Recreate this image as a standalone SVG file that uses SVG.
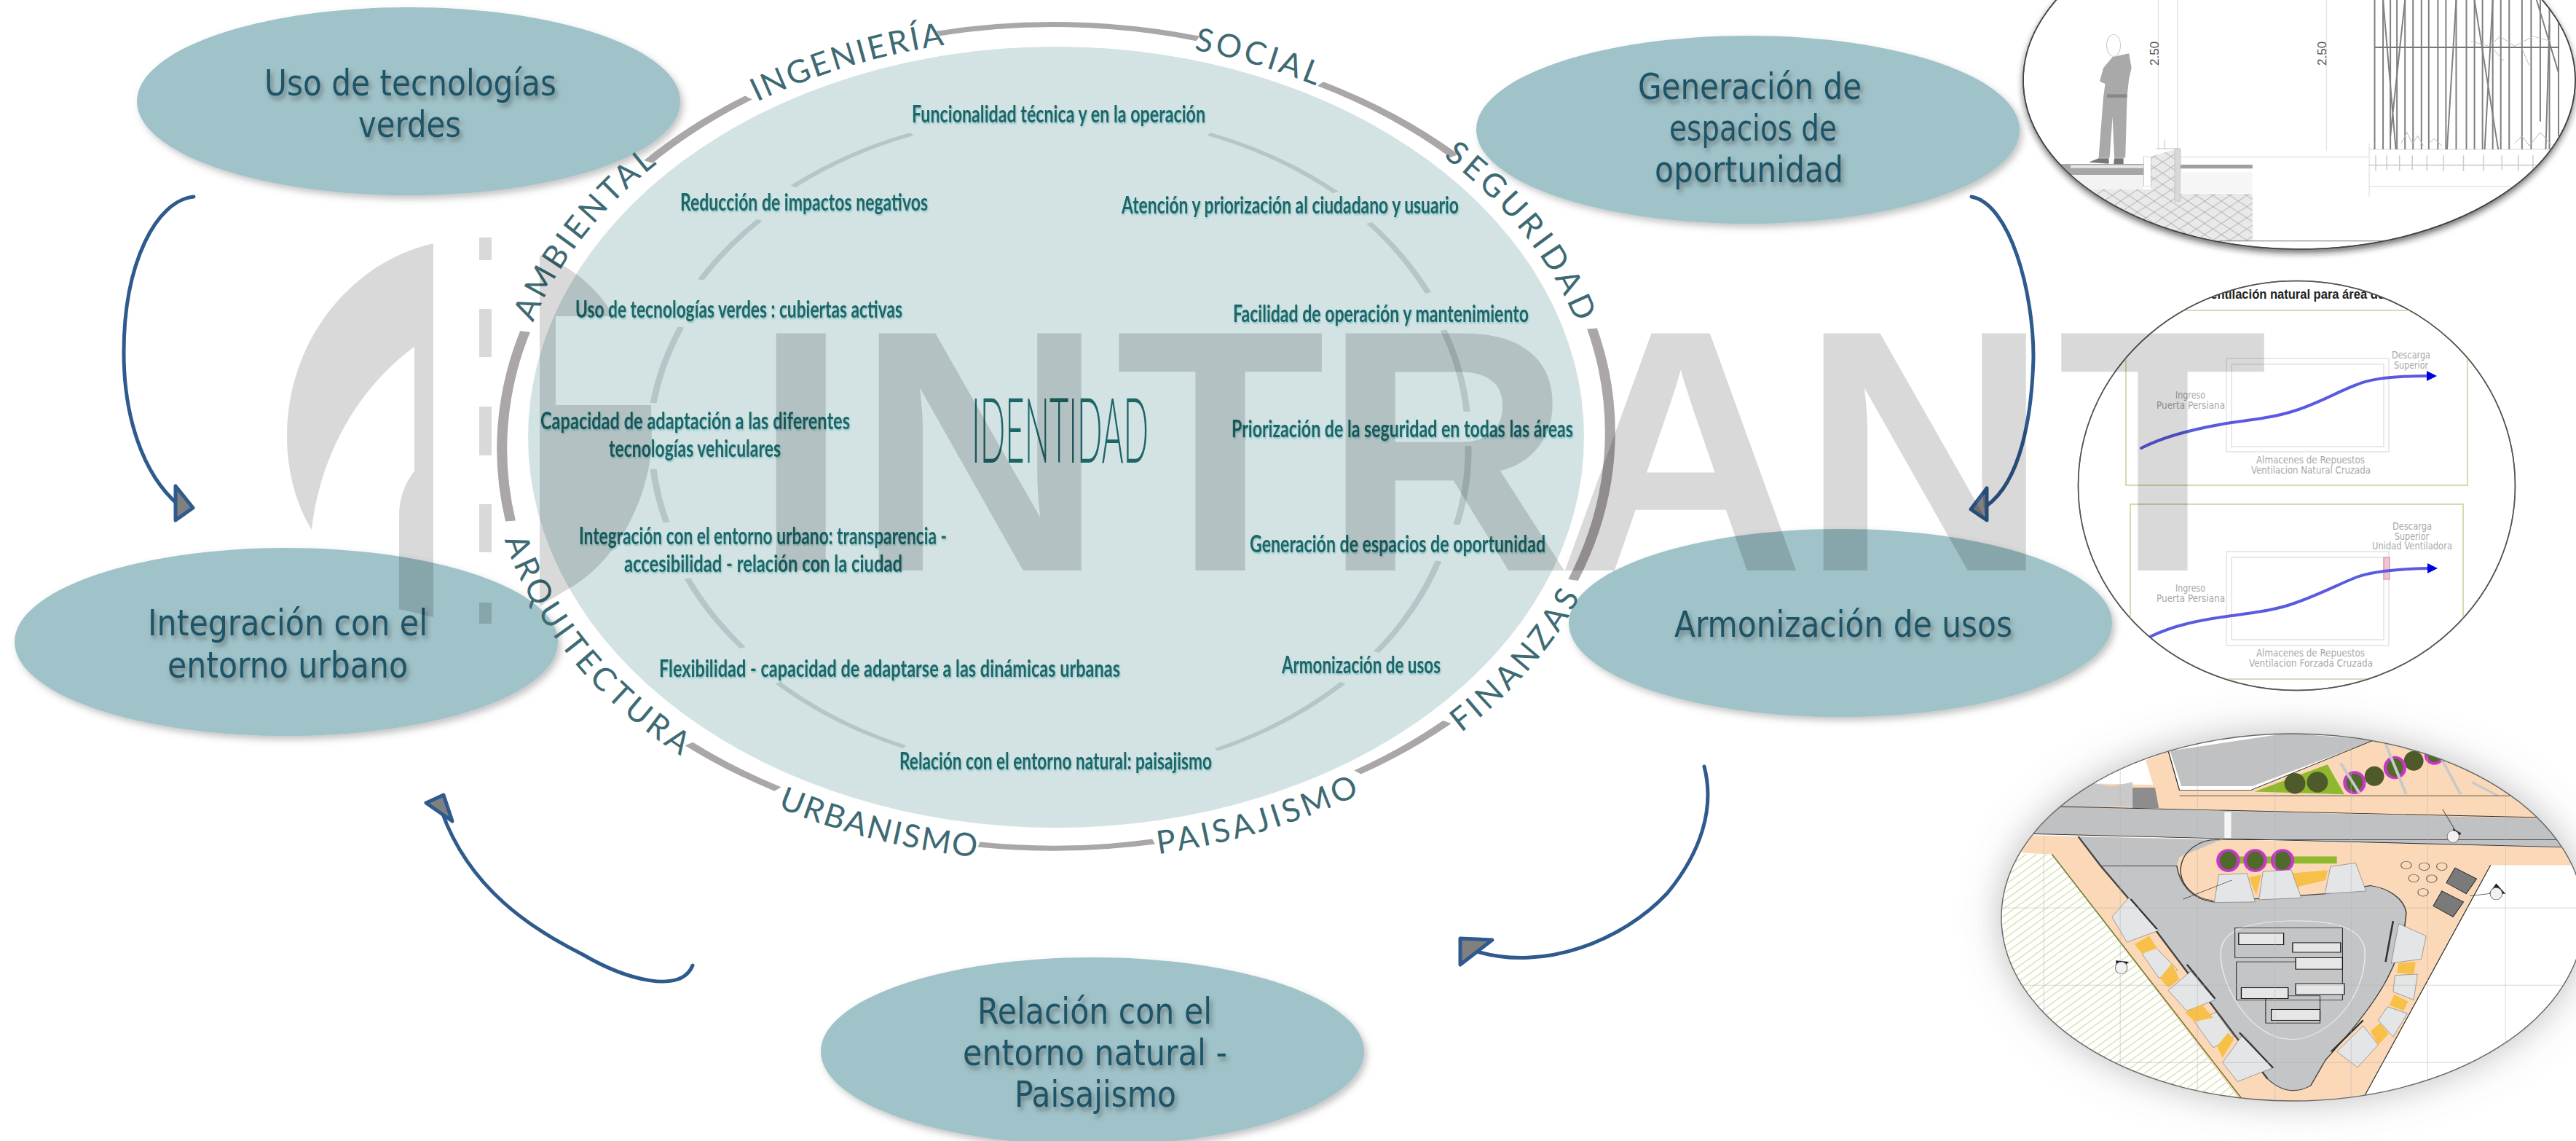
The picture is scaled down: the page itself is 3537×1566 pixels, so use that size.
<svg xmlns="http://www.w3.org/2000/svg" xmlns:xlink="http://www.w3.org/1999/xlink" width="3537" height="1566" viewBox="0 0 3537 1566">
<style>
.node{fill:#9fc3c9;filter:url(#soft)}
.nt{font-family:"DejaVu Sans",Verdana,sans-serif;font-size:50px;fill:#1f5568;text-anchor:start}
.it{font-family:"Lato","Liberation Sans",sans-serif;font-weight:700;font-size:32px;fill:#1d6668}
.rl{font-family:"Lato","Liberation Sans",sans-serif;font-size:44px;fill:#3d6a73;text-anchor:middle}
.ring{fill:none;stroke:#aba6a8;stroke-width:14}
.inner{fill:none;stroke:#b4c6c8;stroke-width:9}
.conn{fill:none;stroke:#2f5a8d;stroke-width:5;stroke-linecap:round}
.head{fill:#808080;stroke:#2f5a8d;stroke-width:5;stroke-linejoin:round}
.lens{fill:#fff;stroke:#555;stroke-width:1.6}
.cad{font-family:"DejaVu Sans",sans-serif;font-size:14px;fill:#a8a8a8;text-anchor:start}
.room{fill:none;stroke:#e2e2e2;stroke-width:1.5}
.frame{fill:none;stroke:#d6dab2;stroke-width:2}
.flow{fill:none;stroke:#5a5ae0;stroke-width:4;stroke-linecap:round}
.bar{stroke:#808080;stroke-width:4;fill:none}
.bay{fill:#e4e5e6;stroke:#444;stroke-width:1}
.or{fill:#f8c048}
.slot{fill:none;stroke:#222;stroke-width:2}
.bus{fill:#e6e6e6;stroke:#111;stroke-width:2.5}
.grid{stroke:#b5b5b5;stroke-width:1.2;fill:none}
.edge{stroke:#2b2b2b;stroke-width:2.5;fill:none}
</style>
<defs>
<filter id="soft" x="-10%" y="-15%" width="120%" height="130%"><feDropShadow dx="4" dy="5" stdDeviation="5" flood-color="#555" flood-opacity=".35"/></filter>
<filter id="ts" x="-10%" y="-20%" width="120%" height="150%"><feDropShadow dx="3" dy="5" stdDeviation="3" flood-color="#444" flood-opacity=".55"/></filter>
<filter id="ts2" x="-5%" y="-30%" width="110%" height="160%"><feDropShadow dx="1" dy="2" stdDeviation="1.2" flood-color="#4fa6a8" flood-opacity=".55"/></filter>
<filter id="lensS" x="-10%" y="-15%" width="120%" height="130%"><feDropShadow dx="0" dy="5" stdDeviation="4" flood-color="#222" flood-opacity=".6"/></filter>
<filter id="big" x="-15%" y="-20%" width="130%" height="140%"><feDropShadow dx="0" dy="0" stdDeviation="26" flood-color="#777" flood-opacity=".5"/></filter>
<pattern id="diam" width="46" height="46" patternUnits="userSpaceOnUse"><rect width="46" height="46" fill="#e9e9e9"/><path d="M0 0L46 46M46 0L0 46" stroke="#a8a8a8" stroke-width="2" fill="none"/></pattern>
<pattern id="green" width="28" height="28" patternUnits="userSpaceOnUse"><rect width="28" height="28" fill="#fff"/><path d="M-7 35L35 -7M-7 7L7 -7M21 35L35 21" stroke="#c9dc98" stroke-width="2.5" fill="none"/></pattern>
<clipPath id="c1"><ellipse cx="3157" cy="110" rx="379" ry="232"/></clipPath>
<clipPath id="c2"><ellipse cx="3153.5" cy="666.5" rx="300" ry="281"/></clipPath>
<clipPath id="c3"><ellipse cx="3148" cy="1259" rx="400" ry="252"/></clipPath>
<path id="pIng" d="M940 197A748 552 0 0 1 1411 51"/>
<path id="pSoc" d="M1539 54A748 552 0 0 1 1898 161"/>
<path id="pSeg" d="M1881 152A748 552 0 0 1 2194 558"/>
<path id="pAmb" d="M702 564A748 552 0 0 1 1007 156"/>
<path id="pArq" d="M670 602A778 580 0 0 0 1059 1104"/>
<path id="pUrb" d="M959 1053A778 580 0 0 0 1462 1182"/>
<path id="pPai" d="M1449 1182A778 580 0 0 0 1989 1018"/>
<path id="pFin" d="M1903 1072A778 580 0 0 0 2214 705"/>
</defs>
<rect width="3537" height="1566" fill="#fff"/>

<g id="nucleo">
<ellipse cx="1450" cy="600" rx="725" ry="536" fill="#d3e3e4"/>
<g transform="translate(1448 600) scale(1 .5)">
<path class="inner" d="M-359 -688A560 860 0 0 1 -196 -832"/>
<path class="inner" d="M212 -832A560 860 0 0 1 386 -672"/>
<path class="inner" d="M432 -588A560 860 0 0 1 513 -396"/>
<path class="inner" d="M534 -294A560 860 0 0 1 566 -70"/>
<path class="inner" d="M568 24A560 860 0 0 1 552 240"/>
<path class="inner" d="M527 340A560 860 0 0 1 442 590"/>
<path class="inner" d="M396 674A560 860 0 0 1 222 858"/>
<path class="inner" d="M-206 850A560 860 0 0 1 -380 674"/>
<path class="inner" d="M-428 578A560 860 0 0 1 -504 388"/>
<path class="inner" d="M-533 234A560 860 0 0 1 -551 88"/>
<path class="inner" d="M-551 -94A560 860 0 0 1 -513 -302"/>
<path class="inner" d="M-486 -432A560 860 0 0 1 -405 -596"/>
</g>
<g filter="url(#ts2)">
<text class="it" x="1252" y="168" textLength="403" lengthAdjust="spacingAndGlyphs">Funcionalidad técnica y en la operación</text>
<text class="it" x="934" y="289" textLength="340" lengthAdjust="spacingAndGlyphs">Reducción de impactos negativos</text>
<text class="it" x="1540" y="293" textLength="463" lengthAdjust="spacingAndGlyphs">Atención y priorización al ciudadano y usuario</text>
<text class="it" x="790" y="436" textLength="449" lengthAdjust="spacingAndGlyphs">Uso de tecnologías verdes : cubiertas activas</text>
<text class="it" x="1693" y="442" textLength="406" lengthAdjust="spacingAndGlyphs">Facilidad de operación y mantenimiento</text>
<text class="it" x="742" y="589" textLength="425" lengthAdjust="spacingAndGlyphs">Capacidad de adaptación a las diferentes</text>
<text class="it" x="836" y="627" textLength="236" lengthAdjust="spacingAndGlyphs">tecnologías vehiculares</text>
<text class="it" x="1691" y="600" textLength="469" lengthAdjust="spacingAndGlyphs">Priorización de la seguridad en todas las áreas</text>
<text class="it" x="795" y="747" textLength="505" lengthAdjust="spacingAndGlyphs">Integración con el entorno urbano: transparencia -</text>
<text class="it" x="857" y="785" textLength="382" lengthAdjust="spacingAndGlyphs">accesibilidad - relación con la ciudad</text>
<text class="it" x="1716" y="758" textLength="406" lengthAdjust="spacingAndGlyphs">Generación de espacios de oportunidad</text>
<text class="it" x="905" y="929" textLength="633" lengthAdjust="spacingAndGlyphs">Flexibilidad - capacidad de adaptarse a las dinámicas urbanas</text>
<text class="it" x="1760" y="924" textLength="218" lengthAdjust="spacingAndGlyphs">Armonización de usos</text>
<text class="it" x="1235" y="1056" textLength="429" lengthAdjust="spacingAndGlyphs">Relación con el entorno natural: paisajismo</text>
</g>
<text x="1334" y="635" font-family="Lato,Liberation Sans,sans-serif" font-weight="300" font-size="125" fill="#1d6668" textLength="243" lengthAdjust="spacingAndGlyphs">IDENTIDAD</text>
</g>

<g id="uso"><ellipse class="node" cx="561" cy="139" rx="373" ry="129"/>
<g filter="url(#ts)"><text class="nt" x="363" y="131" textLength="401" lengthAdjust="spacingAndGlyphs">Uso de tecnologías</text><text class="nt" x="492" y="188" textLength="141" lengthAdjust="spacingAndGlyphs">verdes</text></g></g>
<g id="integracion"><ellipse class="node" cx="393" cy="881" rx="373" ry="129"/>
<g filter="url(#ts)"><text class="nt" x="203" y="872" textLength="384" lengthAdjust="spacingAndGlyphs">Integración con el</text><text class="nt" x="230" y="930" textLength="330" lengthAdjust="spacingAndGlyphs">entorno urbano</text></g></g>
<g id="generacion"><ellipse class="node" cx="2400" cy="178" rx="373" ry="129"/>
<g filter="url(#ts)"><text class="nt" x="2249" y="136" textLength="307" lengthAdjust="spacingAndGlyphs">Generación de</text><text class="nt" x="2292" y="193" textLength="230" lengthAdjust="spacingAndGlyphs">espacios de</text><text class="nt" x="2272" y="250" textLength="259" lengthAdjust="spacingAndGlyphs">oportunidad</text></g></g>
<g id="armonizacion"><ellipse class="node" cx="2527" cy="855" rx="373" ry="129"/>
<g filter="url(#ts)"><text class="nt" x="2299" y="874" textLength="464" lengthAdjust="spacingAndGlyphs">Armonización de usos</text></g></g>
<g id="relacion"><ellipse class="node" cx="1500" cy="1443" rx="373" ry="129"/>
<g filter="url(#ts)"><text class="nt" x="1342" y="1405" textLength="322" lengthAdjust="spacingAndGlyphs">Relación con el</text><text class="nt" x="1322" y="1462" textLength="363" lengthAdjust="spacingAndGlyphs">entorno natural -</text><text class="nt" x="1393" y="1519" textLength="222" lengthAdjust="spacingAndGlyphs">Paisajismo</text></g></g>

<g id="anillo">
<g transform="translate(1448 602) scale(1 .5)">
<path class="ring" d="M-160 -1112A762 1128 0 0 1 197 -1098"/>
<path class="ring" d="M365 -974A762 1128 0 0 1 549 -776"/>
<path class="ring" d="M738 -302A762 1128 0 0 1 712 388"/>
<path class="ring" d="M539 778A762 1128 0 0 1 416 916"/>
<path class="ring" d="M136 1106A762 1128 0 0 1 -104 1114"/>
<path class="ring" d="M-380 962A762 1128 0 0 1 -502 838"/>
<path class="ring" d="M-747 226A762 1128 0 0 1 -727 -294"/>
<path class="ring" d="M-558 -760A762 1128 0 0 1 -420 -936"/>
</g>
<text class="rl"><textPath href="#pIng" xlink:href="#pIng" startOffset="50%" textLength="270">INGENIERÍA</textPath></text>
<text class="rl"><textPath href="#pSoc" xlink:href="#pSoc" startOffset="50%" textLength="175">SOCIAL</textPath></text>
<text class="rl"><textPath href="#pSeg" xlink:href="#pSeg" startOffset="50%" textLength="295">SEGURIDAD</textPath></text>
<text class="rl"><textPath href="#pAmb" xlink:href="#pAmb" startOffset="50%" textLength="280">AMBIENTAL</textPath></text>
<text class="rl"><textPath href="#pArq" xlink:href="#pArq" startOffset="50%" textLength="390">ARQUITECTURA</textPath></text>
<text class="rl"><textPath href="#pUrb" xlink:href="#pUrb" startOffset="50%" textLength="282">URBANISMO</textPath></text>
<text class="rl"><textPath href="#pPai" xlink:href="#pPai" startOffset="50%" textLength="290">PAISAJISMO</textPath></text>
<text class="rl"><textPath href="#pFin" xlink:href="#pFin" startOffset="50%" textLength="250">FINANZAS</textPath></text>
</g>

<g id="connectors">
<path class="conn" d="M266 270C215 275 170 360 170 484C170 570 195 650 245 693"/>
<path class="head" d="M241 667L265 697L241 714Z"/>
<path class="conn" d="M2707 270C2760 280 2792 400 2792 490C2790 570 2775 660 2728 694"/>
<path class="head" d="M2728 670L2728 714L2706 699Z"/>
<path class="conn" d="M2340 1052C2355 1110 2335 1170 2290 1225C2230 1290 2120 1335 2025 1305"/>
<path class="head" d="M2005 1288L2049 1290L2005 1324Z"/>
<path class="conn" d="M951 1325C935 1365 860 1345 800 1310C730 1275 645 1220 607 1115"/>
<path class="head" d="M609 1091L585 1102L621 1127Z"/>
</g>

<g id="seccion">
<ellipse class="lens" cx="3157" cy="110" rx="379" ry="232" filter="url(#lensS)"/>
<g clip-path="url(#c1)"><g transform="translate(2750 0) scale(.502 .3333)">
<polygon points="150,675 385,675 385,720 170,720" fill="#a6a6a6"/>
<rect x="185" y="680" width="200" height="12" fill="#e8e8e8"/>
<polygon points="170,720 385,720 385,780 230,780" fill="#f3f3f3"/>
<polygon points="230,780 470,780 470,798 683,798 683,992 590,992 350,910" fill="url(#diam)"/>
<polygon points="405,645 470,615 470,800 405,775" fill="url(#diam)"/>
<rect x="385" y="645" width="20" height="122" fill="#fff" stroke="#999" stroke-width="1"/>
<rect x="470" y="615" width="16" height="215" fill="#d8d8d8" stroke="#aaa"/>
<rect x="486" y="678" width="197" height="16" fill="#a0a0a0"/>
<rect x="486" y="708" width="197" height="88" fill="#f6f6f6"/>
<g fill="#a9a9a9"><path d="M300 235L345 220L352 280L345 325L340 395L335 650L305 650L300 480L292 650L262 650L275 400L280 345L265 335L275 280Z"/><path d="M235 668L262 652L290 652L290 674ZM305 652L330 652L330 675L303 675Z" fill="#777"/><rect x="285" y="388" width="55" height="14" fill="#888"/></g>
<ellipse cx="303" cy="187" rx="19" ry="45" fill="#fff" stroke="#c4c4c4" stroke-width="2"/>
<g stroke="#c0c0c0" stroke-width="1.5" fill="none">
<path d="M425 0V615M478 0V615M885 0V620M486 646H1000M1002 590V810M1002 615H1520M1002 768H1390"/>
<path d="M420 612H486M443 575V612" stroke="#999"/>
</g>
<path d="M1002 680H1460" stroke="#aaa" stroke-width="3" fill="none"/>
<path d="M590 992H1040" stroke="#777" stroke-width="3" fill="none"/>
<path class="bar" d="M1017 0V615M1040 0V615M1060 0V615M1078 0V615M1100 0V615M1122 0V615M1145 0V615M1165 0V615M1190 0V615M1212 0V615M1240 0V615M1268 0V615M1290 0V615M1312 0V615M1340 0V615M1362 0V615M1385 0V615M1420 0V615M1445 0V615M1470 0V500M1495 0V615M1520 0V560"/>
<path class="bar" d="M1040 0L1075 615M1100 0L1060 560M1240 0L1215 615M1290 0L1355 615M1340 0L1318 615M1460 0L1520 300M1495 100L1485 615"/>
<path d="M1017 195H1522" stroke="#777" stroke-width="6" fill="none"/>
<path d="M1090 590L1105 545L1120 590L1135 560L1150 600M1165 590L1180 570L1200 600M1400 590L1420 560L1440 600L1470 545L1500 595M1280 170L1330 190L1360 150L1400 190L1450 150L1500 170M1340 200L1370 250M1420 200L1440 270" stroke="#bbb" stroke-width="2" fill="none"/>
<path d="M1020 640V705M1050 640V700M1085 640V705M1120 640V700M1160 640V705M1205 640V705M1260 640V705M1315 640V705M1365 640V700M1410 640V705M1450 640V700" stroke="#ccc" stroke-width="3" fill="none"/>
</g>
<text x="0" y="0" transform="translate(2964 90) rotate(-90)" font-family="Liberation Sans,sans-serif" font-size="17" fill="#555">2.50</text>
<text x="0" y="0" transform="translate(3194 90) rotate(-90)" font-family="Liberation Sans,sans-serif" font-size="17" fill="#555">2.50</text>
</g>
<ellipse cx="3157" cy="110" rx="379" ry="232" fill="none" stroke="#444" stroke-width="1.6"/>
</g>

<g id="ventilacion">
<ellipse class="lens" cx="3153.5" cy="666.5" rx="300" ry="281"/>
<g clip-path="url(#c2)">
<text x="3026" y="410" font-family="Liberation Sans,sans-serif" font-weight="700" font-size="19" fill="#222" textLength="248" lengthAdjust="spacingAndGlyphs">ventilación natural para área de</text>
<rect class="frame" x="2919" y="426" width="469" height="240"/>
<rect class="frame" x="2925" y="692" width="457" height="240"/>
<rect class="room" x="3057" y="492" width="223" height="128"/><rect class="room" x="3064" y="500" width="209" height="113"/>
<rect class="room" x="3057" y="757" width="223" height="129"/><rect class="room" x="3064" y="765" width="209" height="113"/>
<path class="flow" d="M2940 615C2975 597 3020 587 3064 580C3100 575 3125 572 3150 564C3185 553 3215 535 3236 528C3255 520 3290 516 3333 516"/>
<path d="M3332 509L3346 516L3332 523Z" fill="#0000e0"/>
<rect x="3273" y="765" width="8" height="30" fill="#f2c4cf" stroke="#cf7f98" stroke-width="1"/>
<path class="flow" d="M2952 874C2985 858 3020 851 3064 845C3100 840 3125 837 3150 828C3185 816 3215 800 3236 792C3255 785 3290 781 3333 780"/>
<path d="M3333 773L3347 780L3333 787Z" fill="#0000e0"/>
<text class="cad" x="3284" y="492" textLength="53" lengthAdjust="spacingAndGlyphs">Descarga</text>
<text class="cad" x="3287" y="506" textLength="47" lengthAdjust="spacingAndGlyphs">Superior</text>
<text class="cad" x="2987" y="547" textLength="41" lengthAdjust="spacingAndGlyphs">Ingreso</text>
<text class="cad" x="2961" y="561" textLength="94" lengthAdjust="spacingAndGlyphs">Puerta Persiana</text>
<text class="cad" x="3098" y="636" textLength="149" lengthAdjust="spacingAndGlyphs">Almacenes de Repuestos</text>
<text class="cad" x="3091" y="650" textLength="164" lengthAdjust="spacingAndGlyphs">Ventilacion Natural Cruzada</text>
<text class="cad" x="3285" y="727" textLength="54" lengthAdjust="spacingAndGlyphs">Descarga</text>
<text class="cad" x="3288" y="741" textLength="47" lengthAdjust="spacingAndGlyphs">Superior</text>
<text class="cad" x="3257" y="754" textLength="110" lengthAdjust="spacingAndGlyphs">Unidad Ventiladora</text>
<text class="cad" x="2987" y="812" textLength="41" lengthAdjust="spacingAndGlyphs">Ingreso</text>
<text class="cad" x="2961" y="826" textLength="94" lengthAdjust="spacingAndGlyphs">Puerta Persiana</text>
<text class="cad" x="3098" y="901" textLength="149" lengthAdjust="spacingAndGlyphs">Almacenes de Repuestos</text>
<text class="cad" x="3088" y="915" textLength="170" lengthAdjust="spacingAndGlyphs">Ventilacion Forzada Cruzada</text>
</g>
<ellipse cx="3153.5" cy="666.5" rx="300" ry="281" fill="none" stroke="#555" stroke-width="1.4"/>
</g>

<g id="planta">
<ellipse cx="3148" cy="1259" rx="400" ry="252" fill="#fff" filter="url(#big)"/>
<g clip-path="url(#c3)"><g transform="translate(2730 980) scale(.5147 .3737)">
<polygon points="0,515 170,515 675,1425 0,1425" fill="url(#green)"/>
<polygon points="100,445 600,460 1568,490 1568,555 1340,555 1005,1400 1005,1425 675,1425 170,515 90,510" fill="#fbd9b8"/>
<polygon points="190,340 280,255 440,260 420,170 480,135 510,280 700,280 1030,95 1250,180 1568,440 1568,390" fill="#fbd9b8"/>
<polygon points="190,340 1568,388 1568,492 120,440" fill="#bfc1c2"/>
<polygon points="485,135 800,70 1030,95 705,265 515,265" fill="#bfc1c2"/>
<polygon points="190,340 280,255 330,265 385,250 385,340" fill="#c9c9c9"/>
<path d="M385 270H445L455 345H385Z" fill="#8d8d8d"/>
<polygon points="710,285 905,185 950,295" fill="#8fb82f"/>
<g fill="#4f5a2a"><ellipse cx="818" cy="255" rx="28" ry="38"/><ellipse cx="878" cy="250" rx="28" ry="38"/><ellipse cx="1030" cy="228" rx="26" ry="36"/><ellipse cx="1135" cy="172" rx="26" ry="36"/></g>
<g fill="#4f6a2a" stroke="#c838c8" stroke-width="9"><ellipse cx="977" cy="252" rx="26" ry="38"/><ellipse cx="1085" cy="197" rx="26" ry="38"/><ellipse cx="1190" cy="152" rx="22" ry="30"/></g>
<path d="M940 180L990 290M1060 110L1115 295M1200 140L1260 295M1290 250L1360 300" stroke="#c9c9c9" stroke-width="8" fill="none"/>
<polygon points="240,450 620,462 510,525 503,560 300,558" fill="#bfc1c2"/>
<path d="M300 558H503C510 620 540 680 600 690L900 660L1020 630C1070 640 1110 680 1115 730C1105 900 1060 1030 900 1270L860 1365Q800 1410 745 1340L450 800Z" fill="#c3c5c6" stroke="#444" stroke-width="3"/>
<path d="M240 450L300 558L450 800L745 1340" stroke="#444" stroke-width="5" fill="none"/>
<path d="M620 462A95 110 0 0 0 600 685" stroke="#444" stroke-width="3" fill="none"/>
<polygon points="648,360 630,360 630,455 648,455" fill="#f5f5f5"/>
<rect x="660" y="523" width="270" height="26" fill="#8fb82f"/>
<g fill="#4f6a2a" stroke="#c838c8" stroke-width="9"><ellipse cx="640" cy="538" rx="27" ry="38"/><ellipse cx="712" cy="538" rx="27" ry="38"/><ellipse cx="785" cy="538" rx="27" ry="38"/></g>
<polygon class="or" points="695,600 728,590 715,665"/><polygon class="or" points="812,585 905,573 900,610 825,635"/>
<polygon class="bay" points="615,590 690,585 712,690 603,692"/><polygon class="bay" points="733,578 808,572 835,675 722,682"/><polygon class="bay" points="913,560 980,547 1008,650 898,660"/>
<polygon class="bay" points="375,675 455,795 370,838 330,745"/><polygon class="bay" points="410,880 445,855 505,940 455,970"/><polygon class="bay" points="540,945 605,1050 530,1090 480,1015"/><polygon class="bay" points="550,1130 608,1095 655,1185 600,1225"/><polygon class="bay" points="680,1175 758,1300 665,1350 625,1280"/>
<polygon class="bay" points="1095,770 1168,815 1155,900 1075,915"/><polygon class="bay" points="1085,960 1145,955 1135,1050 1080,1020"/><polygon class="bay" points="1065,1075 1118,1100 1080,1185 1040,1125"/><polygon class="bay" points="1000,1145 1040,1215 985,1298 930,1240"/>
<polygon class="or" points="390,845 430,815 450,860 410,880"/><polygon class="or" points="458,970 490,915 510,975 480,1005"/><polygon class="or" points="525,1095 570,1067 600,1115 550,1130"/><polygon class="or" points="610,1220 640,1170 655,1195 625,1262"/>
<polygon class="or" points="1095,915 1140,910 1135,955 1090,950"/><polygon class="or" points="1083,1030 1120,1055 1108,1090 1070,1070"/><polygon class="or" points="1020,1165 1045,1135 1068,1175 1040,1215"/>
<path d="M800 760C950 755 1005 800 1005 880C1005 1050 900 1195 810 1195C700 1195 620 1000 620 880C620 800 680 765 800 760Z" fill="none" stroke="#e8e8e8" stroke-width="3"/>
<rect class="slot" x="658" y="785" width="287" height="110"/><rect class="slot" x="662" y="910" width="283" height="140"/><rect class="slot" x="740" y="1035" width="145" height="100"/>
<rect class="bus" x="668" y="805" width="120" height="42"/><rect class="bus" x="812" y="840" width="128" height="35"/><rect class="bus" x="820" y="895" width="125" height="42"/><rect class="bus" x="675" y="1005" width="125" height="40"/><rect class="bus" x="820" y="990" width="130" height="40"/><rect class="bus" x="755" y="1085" width="130" height="40"/>
<path d="M380 680L450 790M530 920L605 1045M670 1170L760 1300M1080 760L1060 910M1000 1125L915 1240" stroke="#333" stroke-width="5" fill="none"/>
<path class="edge" d="M190 340L1470 380M120 440L1568 490M622 462H1568" stroke-width="4"/>
<path class="edge" d="M1340 555L1005 1400M170 515L675 1410M480 135L510 280H700L1030 95M510 300H1400"/>
<path d="M170 515L675 1410" stroke="#7a8a3a" stroke-width="3" fill="none"/>
<path class="grid" d="M148 0V1425M352 0V1425M558 0V1425M765 0V1425M968 0V1425M1172 0V1425M1380 0V1425M0 712H1568M0 996H1568M0 1280H1290"/>
<g fill="none" stroke="#555" stroke-width="2"><circle cx="1115" cy="555" r="14"/><circle cx="1163" cy="560" r="14"/><circle cx="1210" cy="560" r="14"/><circle cx="1135" cy="603" r="14"/><circle cx="1183" cy="605" r="14"/><circle cx="1160" cy="655" r="14"/></g>
<polygon points="1245,565 1303,605 1275,660 1222,620" fill="#7a7a7a" stroke="#222" stroke-width="2"/><polygon points="1210,650 1268,690 1240,745 1187,705" fill="#7a7a7a" stroke="#222" stroke-width="2"/>
<path d="M1240 470L1262 438L1240 420Z M1355 622L1335 660H1380Z M340 905L375 910L345 952Z" fill="#222"/>
<g fill="#f2f2f2" stroke="#777" stroke-width="2"><ellipse cx="1240" cy="450" rx="16" ry="22"/><ellipse cx="1355" cy="660" rx="16" ry="22"/><ellipse cx="355" cy="932" rx="16" ry="22"/></g>
<path d="M1212 350L1245 425M1335 660L1285 668M650 610L520 680" stroke="#444" stroke-width="2" fill="none"/>
</g></g>
<ellipse cx="3148" cy="1259" rx="400" ry="252" fill="none" stroke="#666" stroke-width="1.4"/>
</g>

<g id="logo" fill="#000" fill-opacity=".15">
<path d="M595 334C480 360 394 470 394 598C394 650 408 695 428 727C440 620 495 530 569 476L569 646C555 665 548 685 548 706L548 836L595 847Z"/>
<path d="M741 350C785 365 820 395 843 434L763 434L763 556L894 556L895 606C892 680 850 770 779 809L741 832Z"/>
<rect x="658" y="326" width="17" height="31"/><rect x="658" y="424" width="17" height="66"/><rect x="658" y="558" width="17" height="67"/><rect x="658" y="692" width="17" height="66"/><rect x="658" y="827" width="17" height="29"/>
</g>
<text id="watermark" y="783" x="1034 1175 1531 1816 2137 2472 2825" font-family="Liberation Sans,sans-serif" font-weight="700" font-size="473" fill="#000" fill-opacity=".15">INTRANT</text>
</svg>
